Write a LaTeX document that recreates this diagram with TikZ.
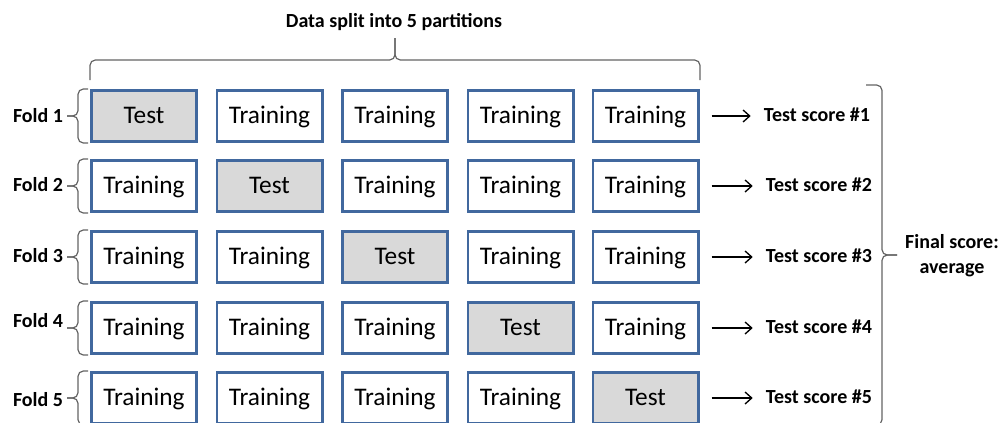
\documentclass[tikz,border=0pt]{standalone}
\usepackage{fontspec}
\setmainfont{Carlito}
\usetikzlibrary{arrows.meta}

\definecolor{partblue}{RGB}{65,104,158}
\definecolor{testgray}{RGB}{217,217,217}
\definecolor{bracegray}{RGB}{100,100,100}

\begin{document}
\begin{tikzpicture}[x=0.75pt,y=-0.75pt,
    partition/.style ={rectangle, draw=partblue, line width=2pt,
        minimum width=79pt, minimum height=38.5pt, inner sep=0pt,
        text height=13pt, text depth=2.5pt,
        font=\fontsize{19}{22}\selectfont},
    training/.style ={partition, fill=white},
    test/.style ={partition, fill=testgray},
    boldtext/.style ={inner sep=0pt, font=\fontsize{15}{18.75}\selectfont\bfseries},
    bracket line/.style ={draw=bracegray, line width=0.9pt, rounded corners=4pt},
    score/.style ={-{Straight Barb[length=5pt,width=9pt]}, line width=1pt,
        shorten <=9pt, shorten >=9.75pt}]
   \useasboundingbox (0,0) rectangle (1003,422);
   \clip (0,0) rectangle (1003,422);

   % fold 1
   \node[test] (A1) at (144,116) {Test};
   \node[training] (A2) at (269.5,116) {Training};
   \node[training] (A3) at (395,116) {Training};
   \node[training] (A4) at (520.5,116) {Training};
   \node[training] (A5) at (645.5,116) {Training};
   % fold 2
   \node[training] (B1) at (144,186) {Training};
   \node[test] (B2) at (269.5,186) {Test};
   \node[training] (B3) at (395,186) {Training};
   \node[training] (B4) at (520.5,186) {Training};
   \node[training] (B5) at (645.5,186) {Training};
   % fold 3
   \node[training] (C1) at (144,257) {Training};
   \node[training] (C2) at (269.5,257) {Training};
   \node[test] (C3) at (395,257) {Test};
   \node[training] (C4) at (520.5,257) {Training};
   \node[training] (C5) at (645.5,257) {Training};
   % fold 4
   \node[training] (D1) at (144,328) {Training};
   \node[training] (D2) at (269.5,328) {Training};
   \node[training] (D3) at (395,328) {Training};
   \node[test] (D4) at (520.5,328) {Test};
   \node[training] (D5) at (645.5,328) {Training};
   % fold 5
   \node[training] (E1) at (144,398) {Training};
   \node[training] (E2) at (269.5,398) {Training};
   \node[training] (E3) at (395,398) {Training};
   \node[training] (E4) at (520.5,398) {Training};
   \node[test] (E5) at (645.5,398) {Test};

   % fold names and their braces
   \node[boldtext] (fold1) at (38,116) {Fold 1};
   \node[boldtext] (fold2) at (38,185) {Fold 2};
   \node[boldtext] (fold3) at (38,256) {Fold 3};
   \node[boldtext] (fold4) at (38,321) {Fold 4};
   \node[boldtext] (fold5) at (38,400) {Fold 5};
   \draw[bracket line] (88,89) -| (78,116) -- (67,116);
   \draw[bracket line] (88,143) -| (78,116) -- (67,116);
   \draw[bracket line] (88,159) -| (78,186) -- (67,186);
   \draw[bracket line] (88,213) -| (78,186) -- (67,186);
   \draw[bracket line] (88,230) -| (78,257) -- (67,257);
   \draw[bracket line] (88,284) -| (78,257) -- (67,257);
   \draw[bracket line] (88,301) -| (78,328) -- (67,328);
   \draw[bracket line] (88,355) -| (78,328) -- (67,328);
   \draw[bracket line] (88,371) -| (78,398) -- (67,398);
   \draw[bracket line] (88,425) -| (78,398) -- (67,398);

   % partitions brace
   \node[boldtext] (split) at (394,22) {Data split into 5 partitions};
   \draw[bracket line] (90,80) |- (395,60) -- (395,38);
   \draw[bracket line] (700,80) |- (395,60) -- (395,38);

   % scores
   \node[boldtext] (s1) at (817,115) {Test score \#1};
   \node[boldtext] (s2) at (819,184.5) {Test score \#2};
   \node[boldtext] (s3) at (819,255.5) {Test score \#3};
   \node[boldtext] (s4) at (819,326.5) {Test score \#4};
   \node[boldtext] (s5) at (819,396.5) {Test score \#5};
   \draw[score] (A5) -- (A5 -| s1.west);
   \draw[score] (B5) -- (B5 -| s2.west);
   \draw[score] (C5) -- (C5 -| s3.west);
   \draw[score] (D5) -- (D5 -| s4.west);
   \draw[score] (E5) -- (E5 -| s5.west);

   % final score brace
   \draw[bracket line] (866,85) -| (882,255) -- (897,255);
   \draw[bracket line] (866,425) -| (882,255) -- (897,255);
   \node[boldtext, align=center] (final) at (952,256) {Final score:\\average};
 \end{tikzpicture}
\end{document}
